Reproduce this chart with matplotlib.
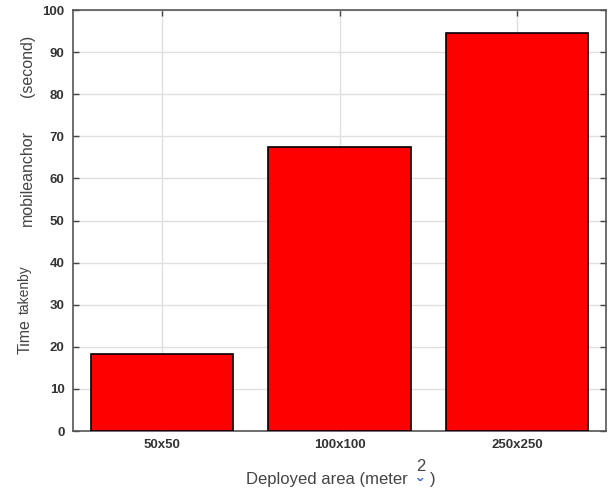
import matplotlib
matplotlib.use("Agg")
import matplotlib.pyplot as plt

plt.rcParams['font.family'] = ['Liberation Sans', 'DejaVu Sans']

categories = ["50x50", "100x100", "250x250"]
values = [18.4, 67.4, 94.5]
yticks = [0, 10, 20, 30, 40, 50, 60, 70, 80, 90, 100]

fig = plt.figure(figsize=(6.08, 4.94), dpi=100)
ax = fig.add_axes([73/608, 1-431/494, (606-73)/608, (431-10)/494])

x = list(range(len(categories)))
ax.bar(x, values, width=0.8, color='#ff0000', edgecolor='black', linewidth=1.2, zorder=3)
ax.set_xlim(-0.5, 2.5)
ax.set_ylim(0, 100)
ax.set_xticks(x)
ax.set_xticklabels(categories)
ax.set_yticks(yticks)
ax.grid(True, color='#e0e0e0', linewidth=1, zorder=0)
ax.set_axisbelow(True)
for s in ax.spines.values():
    s.set_color('#555555')
    s.set_linewidth(1.2)
ax.tick_params(direction='in', length=4, width=1, color='#444444',
               top=True, right=True, labelsize=9.5, labelcolor='#333333', pad=6)
for lab in ax.get_yticklabels():
    lab.set_fontweight('bold')
for lab in ax.get_xticklabels():
    lab.set_fontweight('bold')

# y label pieces
col = '#444444'
fig.text(25/608, 1-337/494, "Time", rotation=90, ha='center', va='center', fontsize=11.5, color=col)
fig.text(25/608, 1-290/494, "takenby", rotation=90, ha='center', va='center', fontsize=10, color=col)
fig.text(27/608, 1-178/494, "mobileanchor", rotation=90, ha='center', va='center', fontsize=11.5, color=col)
fig.text(27/608, 1-66/494, "(second)", rotation=90, ha='center', va='center', fontsize=11.5, color=col)

# x label pieces
fig.text(327/608, 1-479/494, "Deployed area (meter", ha='center', va='center', fontsize=12, color=col)
fig.text(421/608, 1-466/494, "2", ha='center', va='center', fontsize=12, color=col)
fig.text(433/608, 1-479/494, ")", ha='center', va='center', fontsize=12, color=col)
fig.text(420/608, 1-487/494, "\u02c7", ha='center', va='center', fontsize=13, fontweight='bold', color='#3a6fd8')

fig.savefig("out.png", dpi=100)
